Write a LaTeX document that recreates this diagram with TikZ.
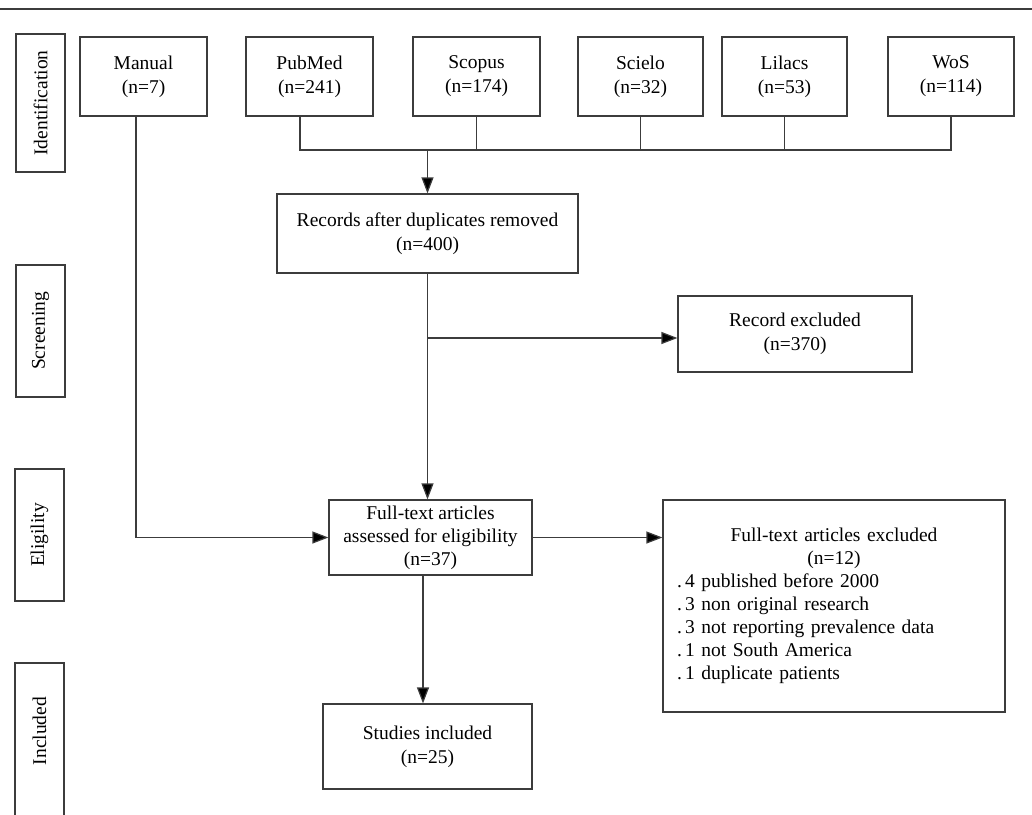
\documentclass[tikz,border=0pt]{standalone}
\usepackage{fontspec}
\setmainfont{Liberation Serif}
\usetikzlibrary{arrows.meta}
\definecolor{linec}{RGB}{60,60,60}
\frenchspacing
\begin{document}
\begin{tikzpicture}[x=1pt,y=-1pt,
  every node/.style={font=\fontsize{19.5}{24}\selectfont, align=center, inner sep=0pt},
  box/.style={draw=linec, line width=1.2pt, rectangle},
  side/.style={draw=linec, line width=1.2pt, rectangle, rotate=90, minimum height=49pt},
  conn/.style={draw=linec, line width=1.2pt},
  arr/.style={conn, -{Triangle[length=16pt,width=12pt,fill=black]}}]
\useasboundingbox (0,0) rectangle (1032,814);
\draw[draw=linec, line width=1.4pt] (0,9) -- (1032,9);
% side labels
\node[side, minimum width=138pt] (sid) at (40.5,103) {Identification};
\node[side, minimum width=132pt] (ssc) at (40.5,331) {Screening};
\node[side, minimum width=132pt] (sel) at (39.5,535) {Eligility};
\node[rotate=90] (sin) at (39.5,731) {Included};
\draw[conn] (15,820) -- (15,663) -- (64,663) -- (64,820);
% sources
\node[box, minimum width=127pt, minimum height=79pt] (man) at (143.5,76.5) {Manual\\(n=7)};
\node[box, minimum width=127pt, minimum height=79pt] (pub) at (309.5,76.5) {PubMed\\(n=241)};
\node[box, minimum width=127pt, minimum height=79pt] (sco) at (476.5,76.5) {Scopus\\(n=174)};
\node[box, minimum width=125pt, minimum height=79pt] (sci) at (640.5,76.5) {Scielo\\(n=32)};
\node[box, minimum width=125pt, minimum height=79pt] (lil) at (784.5,76.5) {Lilacs\\(n=53)};
\node[box, minimum width=126pt, minimum height=79pt] (wos) at (951,76.5) {WoS\\(n=114)};
% main flow
\node[box, minimum width=301pt, minimum height=79pt] (rec) at (427.5,233.5) {Records after duplicates removed\\(n=400)};
\node[box, minimum width=234pt, minimum height=76pt] (rex) at (795,334) {Record excluded\\(n=370)};
\node[box, minimum width=203pt, minimum height=75pt, font=\fontsize{19.5}{23}\selectfont] (fta) at (430.5,537.5) {Full-text articles\\assessed for eligibility\\(n=37)};
\node[box, minimum width=342pt, minimum height=212pt, text width=314pt, align=left, font=\fontsize{19.5}{23}\selectfont] (fex) at (834,606)
  {{\centering Full-text articles excluded\\(n=12)\par}
   \raggedright .\,4 published before 2000\\
   .\,3 non original research\\
   .\,3 not reporting prevalence data\\
   .\,1 not South America\\
   .\,1 duplicate patients\par};
\node[box, minimum width=209pt, minimum height=85pt] (stu) at (427.5,746.5) {Studies included\\(n=25)};
% bus
\coordinate (bus) at (427.5,150);
\draw[conn] ([xshift=-9.5pt]pub.south) |- (wos.south |- bus) -- (wos.south);
\draw[conn] (sco.south) -- (sco.south |- bus);
\draw[conn] (sci.south) -- (sci.south |- bus);
\draw[conn] (lil.south) -- (lil.south |- bus);
\draw[arr] (bus) -- (rec.north);
% screening
\coordinate (br) at (427.5,338);
\draw[arr] (rec.south) -- (rec.south |- fta.north);
\draw[arr] (br) -- (br -| rex.west);
% manual
\draw[arr] ([xshift=-7.5pt]man.south) |- (fta.west);
% eligibility
\draw[arr] (fta.east) -- (fta.east -| fex.west);
\draw[arr] ([xshift=-7.5pt]fta.south) -- ([xshift=-7.5pt]fta.south |- stu.north);
\end{tikzpicture}
\end{document}
